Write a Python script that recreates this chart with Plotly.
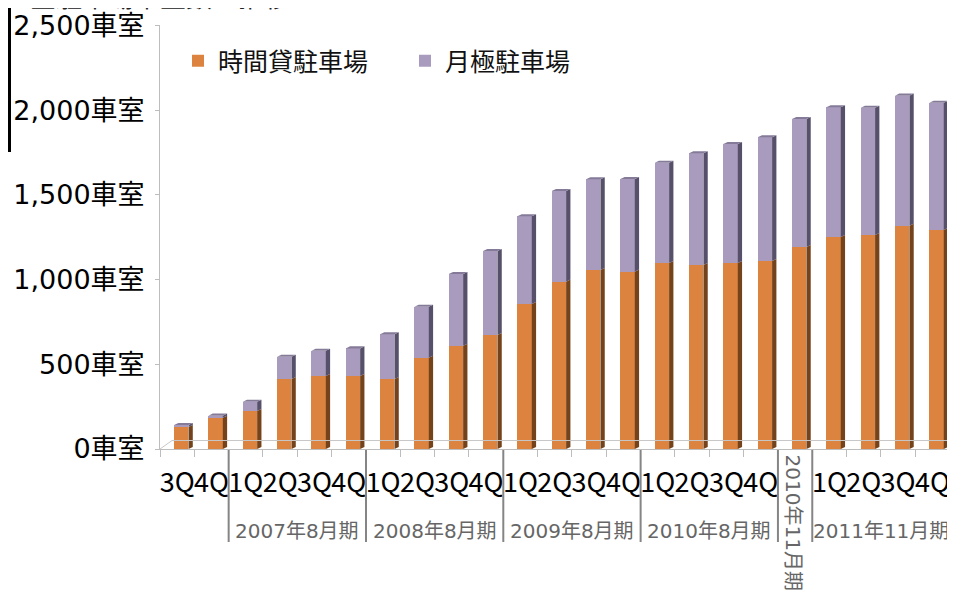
import plotly.graph_objects as go

# ---------------- data ----------------
quarters = ["3Q", "4Q", "1Q", "2Q", "3Q", "4Q", "1Q", "2Q", "3Q", "4Q", "1Q", "2Q",
            "3Q", "4Q", "1Q", "2Q", "3Q", "4Q", "", "1Q", "2Q", "3Q", "4Q"]
group_names = ["", "2007年8月期", "2008年8月期", "2009年8月期", "2010年8月期",
               "2010年11月期", "2011年11月期"]
group_sizes = [2, 4, 4, 4, 4, 1, 4]
hourly = [130, 185, 224, 413, 431, 431, 413, 539, 610, 673, 856, 988,
          1057, 1047, 1098, 1086, 1098, 1110, 1192, 1251, 1263, 1318, 1293]
monthly = [12, 12, 55, 132, 149, 163, 264, 301, 423, 496, 518, 535,
           535, 547, 592, 660, 702, 730, 756, 766, 752, 768, 751]
series_names = ["時間貸駐車場", "月極駐車場"]
y_tickvals = [0, 500, 1000, 1500, 2000, 2500]
y_ticktext = ["0車室", "500車室", "1,000車室", "1,500車室", "2,000車室", "2,500車室"]
title_text = "全駐車場車室数の推移"

# ---------------- style / layout constants ----------------
PAGE_OFF = 8                     # default body margin of the html page
W, H = 955 - PAGE_OFF, 594 - PAGE_OFF
ML, MR, MT, MB = 160 - PAGE_OFF, 0, 25 - PAGE_OFF, 145
PW, PH = W - ML - MR, H - MT - MB
SLOT_PX = 34.33
Y_PX = 0.1694
x_range = [-0.5, -0.5 + PW / SLOT_PX]
y_range = [0, PH / Y_PX]

BAR_W = 0.42
BAR_OFF = -0.09
DX = 0.125      # 3D depth (x, category units)
DY = 12         # 3D depth (y, value units)

ORANGE, ORANGE_SIDE = "#DC843F", "#74431C"
PURPLE, PURPLE_SIDE, PURPLE_TOP = "#A99BBD", "#57506A", "#857B99"
FONT_J = "Noto Sans CJK JP"
FONT_D = "DejaVu Sans, Noto Sans CJK JP"

n = len(quarters)
xs = list(range(n))
totals = [h + m for h, m in zip(hourly, monthly)]


def px2paper_x(px):
    """screen pixel (page coords) -> paper x"""
    return (px - PAGE_OFF - ML) / PW


def px2paper_y(py):
    """screen pixel (page coords) -> paper y"""
    return (H - MB - (py - PAGE_OFF)) / PH


fig = go.Figure()

# front faces
fig.add_trace(go.Bar(x=xs, y=hourly, name=series_names[0], width=BAR_W, offset=BAR_OFF,
                     marker=dict(color=ORANGE, line=dict(width=0))))
fig.add_trace(go.Bar(x=xs, y=monthly, name=series_names[1], width=BAR_W, offset=BAR_OFF,
                     marker=dict(color=PURPLE, line=dict(width=0))))


def side_poly(bottoms, tops):
    px, py = [], []
    for i in xs:
        xr = i + BAR_OFF + BAR_W
        px += [xr, xr + DX, xr + DX, xr, xr, None]
        py += [bottoms[i], bottoms[i] + DY, tops[i] + DY, tops[i], bottoms[i], None]
    return px, py


sx, sy = side_poly([0] * n, hourly)
fig.add_trace(go.Scatter(x=sx, y=sy, mode="lines", fill="toself", fillcolor=ORANGE_SIDE,
                         line=dict(width=0), showlegend=False, hoverinfo="skip"))
sx, sy = side_poly(hourly, totals)
fig.add_trace(go.Scatter(x=sx, y=sy, mode="lines", fill="toself", fillcolor=PURPLE_SIDE,
                         line=dict(width=0), showlegend=False, hoverinfo="skip"))
tx, ty = [], []
for i in xs:
    xl = i + BAR_OFF
    xr = xl + BAR_W
    tx += [xl, xl + DX, xr + DX, xr, xl, None]
    ty += [totals[i], totals[i] + DY, totals[i] + DY, totals[i], totals[i], None]
fig.add_trace(go.Scatter(x=tx, y=ty, mode="lines", fill="toself", fillcolor=PURPLE_TOP,
                         line=dict(width=0), showlegend=False, hoverinfo="skip"))

# floor outline (back edge)
FLOOR_Y = 50
fig.add_trace(go.Scatter(x=[-0.5, -0.5 + 0.35, n - 0.5 + 0.15, n - 0.5],
                         y=[0, FLOOR_Y, FLOOR_Y, 0], mode="lines",
                         line=dict(color="#C8C8C8", width=1), showlegend=False,
                         hoverinfo="skip"))

# group separators and group labels
shapes = []
annotations = []
bounds = []
start = 0
for size in group_sizes:
    bounds.append((start, start + size))
    start += size
for gi, (s, e) in enumerate(bounds):
    if gi > 0:
        shapes.append(dict(type="line", xref="x", yref="paper", x0=s - 0.5, x1=s - 0.5,
                           y0=px2paper_y(450), y1=px2paper_y(542),
                           line=dict(color="#858585", width=2)))
    name = group_names[gi]
    if not name:
        continue
    cx = (s + e - 1) / 2
    if e - s == 1:
        annotations.append(dict(x=cx - 0.05, y=px2paper_y(453), xref="x", yref="paper",
                                text=name, showarrow=False, textangle=90,
                                xanchor="center", yanchor="top",
                                font=dict(family=FONT_D, size=20, color="#666666")))
    else:
        annotations.append(dict(x=cx, y=px2paper_y(531), xref="x", yref="paper",
                                text=name, showarrow=False, xanchor="center",
                                yanchor="middle",
                                font=dict(family=FONT_D, size=20, color="#666666")))

# title (cut off at the top as in the source image)
annotations.append(dict(x=px2paper_x(28), y=px2paper_y(16), xref="paper", yref="paper",
                        text=title_text, showarrow=False, xanchor="left",
                        yanchor="bottom",
                        font=dict(family=FONT_J, size=26, color="#222222")))

# black edge line at the far left
shapes.append(dict(type="line", xref="paper", yref="paper",
                   x0=px2paper_x(9.5), x1=px2paper_x(9.5),
                   y0=px2paper_y(0), y1=px2paper_y(152),
                   line=dict(color="#000000", width=3)))

fig.update_layout(
    width=W, height=H,
    margin=dict(l=ML, r=MR, t=MT, b=MB, pad=0),
    paper_bgcolor="white", plot_bgcolor="white",
    barmode="stack", bargap=0,
    showlegend=True,
    legend=dict(orientation="h", traceorder="normal",
                x=px2paper_x(178), y=px2paper_y(61), xanchor="left", yanchor="middle",
                font=dict(family=FONT_J, size=25, color="#111111"),
                entrywidth=182, entrywidthmode="pixels",
                bgcolor="rgba(0,0,0,0)"),
    shapes=shapes,
    annotations=annotations,
    xaxis=dict(range=x_range, tickmode="array", tickvals=xs, ticktext=quarters,
               tickangle=0, ticklabelstandoff=10,
               showgrid=False, zeroline=False, showline=True, linecolor="#BDBDBD",
               linewidth=1, ticks="",
               tickfont=dict(family=FONT_J, size=27, color="#000000"),
               minor=dict(tickmode="array", tickvals=[i - 0.5 for i in range(n + 1)],
                          ticks="outside", ticklen=7, tickcolor="#BDBDBD", showgrid=False),
               fixedrange=True),
    yaxis=dict(range=y_range, tickmode="array", tickvals=y_tickvals, ticktext=y_ticktext,
               showgrid=False, zeroline=False, showline=True, linecolor="#BDBDBD",
               linewidth=1, ticks="outside", ticklen=4, tickcolor="#BDBDBD",
               ticklabelstandoff=5,
               tickfont=dict(family=FONT_D, size=27, color="#000000"),
               fixedrange=True),
)

fig.write_html("out.html")
